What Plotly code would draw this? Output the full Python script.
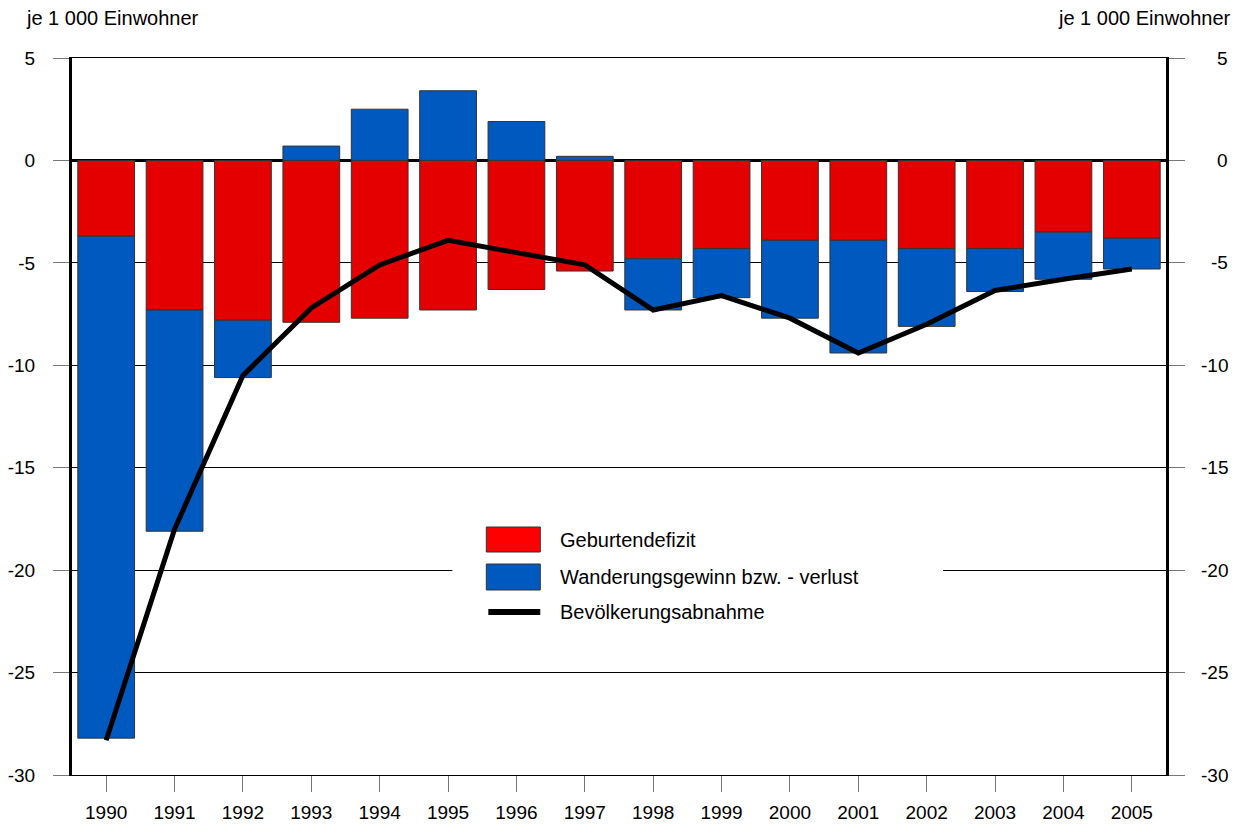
import plotly.graph_objects as go

years = [str(y) for y in range(1990, 2006)]
geburtendefizit = [-3.7, -7.3, -7.8, -7.9, -7.7, -7.3, -6.3, -5.4, -4.8, -4.3, -3.9, -3.9, -4.3, -4.3, -3.5, -3.8]
wanderung = [-24.5, -10.8, -2.8, 0.7, 2.5, 3.4, 1.9, 0.2, -2.5, -2.4, -3.8, -5.5, -3.8, -2.1, -2.3, -1.5]
abnahme = [-28.3, -18.0, -10.5, -7.2, -5.1, -3.9, -4.5, -5.1, -7.3, -6.6, -7.7, -9.4, -8.0, -6.35, -5.8, -5.3]
ytick_vals = [5, 0, -5, -10, -15, -20, -25, -30]
ytick_text = ["5", "0", "-5", "-10", "-15", "-20", "-25", "-30"]

RED = "#e50000"
BLUE = "#0059be"
FONT = "Liberation Sans, Arial, sans-serif"

# page is offset by the default 8px body margin
OFF = 8
PAGE_W, PAGE_H = 1241, 826
W, H = PAGE_W - OFF, PAGE_H - OFF
# plot area in page pixels
L, R, T, B = 71.5, 1166, 58, 775


def px(x):
    return (x - L) / (R - L)


def py(y):
    return (B - y) / (B - T)


fig = go.Figure()
fig.add_trace(go.Bar(x=years, y=geburtendefizit, name="Geburtendefizit",
                     marker=dict(color=RED, line=dict(color="#333333", width=1)),
                     showlegend=False))
fig.add_trace(go.Bar(x=years, y=wanderung, name="Wanderungsgewinn bzw. - verlust",
                     marker=dict(color=BLUE, line=dict(color="#333333", width=1)),
                     showlegend=False))
fig.add_trace(go.Scatter(x=years, y=abnahme, name="Bevölkerungsabnahme", mode="lines",
                         line=dict(color="black", width=5), showlegend=False))

shapes = []
annotations = []
# legend box
shapes.append(dict(type="rect", xref="paper", yref="paper", x0=px(452), x1=px(943),
                   y0=py(635), y1=py(515), fillcolor="white", line=dict(width=0), layer="above"))
shapes.append(dict(type="rect", xref="paper", yref="paper", x0=px(486), x1=px(540),
                   y0=py(552), y1=py(527), fillcolor="#ff0000", line=dict(color="#333333", width=1), layer="above"))
shapes.append(dict(type="rect", xref="paper", yref="paper", x0=px(486), x1=px(540),
                   y0=py(590), y1=py(564), fillcolor=BLUE, line=dict(color="#333333", width=1), layer="above"))
shapes.append(dict(type="line", xref="paper", yref="paper", x0=px(488), x1=px(540),
                   y0=py(612), y1=py(612), line=dict(color="black", width=6), layer="above"))
for label, yy in [("Geburtendefizit", 540), ("Wanderungsgewinn bzw. - verlust", 577),
                  ("Bevölkerungsabnahme", 612)]:
    annotations.append(dict(text=label, xref="paper", yref="paper", x=px(558), y=py(yy),
                            xanchor="left", yanchor="middle", showarrow=False,
                            font=dict(family=FONT, size=20, color="black")))

# unit labels
annotations.append(dict(text="je 1 000 Einwohner", xref="paper", yref="paper", x=px(23), y=py(18),
                        xanchor="left", yanchor="middle", showarrow=False,
                        font=dict(family=FONT, size=20, color="black")))
annotations.append(dict(text="je 1 000 Einwohner", xref="paper", yref="paper", x=px(1233), y=py(18),
                        xanchor="right", yanchor="middle", showarrow=False,
                        font=dict(family=FONT, size=20, color="black")))
# right-side tick labels
for v, t in zip(ytick_vals, ytick_text):
    annotations.append(dict(text=t, xref="paper", yref="y", x=px(1230), y=v,
                            xanchor="right", yanchor="middle", showarrow=False,
                            font=dict(family=FONT, size=19, color="black")))

fig.update_layout(
    width=W, height=H,
    margin=dict(l=L - OFF, r=W - (R - OFF), t=T - OFF, b=H - (B - OFF), pad=0),
    paper_bgcolor="white", plot_bgcolor="white",
    barmode="relative", bargap=0.17,
    font=dict(family=FONT, size=19, color="black"),
    shapes=shapes, annotations=annotations,
    xaxis=dict(type="category", range=[-0.5, 15.5], showgrid=False, automargin=False,
               showline=True, linecolor="black", linewidth=1, mirror=True,
               ticks="outside", ticklen=16, tickcolor="#777777", tickwidth=1,
               ticklabelstandoff=4, tickfont=dict(family=FONT, size=19, color="black")),
    yaxis=dict(range=[-30, 5], tickvals=ytick_vals, ticktext=ytick_text, automargin=False,
               showgrid=True, gridcolor="black", gridwidth=1,
               zeroline=True, zerolinecolor="black", zerolinewidth=3,
               showline=True, linecolor="black", linewidth=3, mirror="allticks",
               ticks="outside", ticklen=16, tickcolor="#777777", tickwidth=1,
               ticklabelstandoff=14, tickfont=dict(family=FONT, size=19, color="black")),
)

fig.write_html("out.html")
